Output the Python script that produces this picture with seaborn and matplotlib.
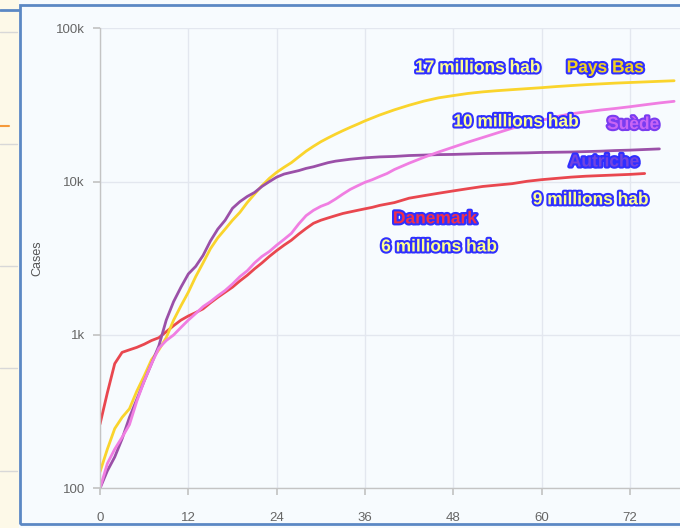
import pandas as pd
import matplotlib.pyplot as plt
import matplotlib.patheffects as pe
from matplotlib.patches import Rectangle
from matplotlib.lines import Line2D
import seaborn as sns

# cumulative cases by day since the 100th case
dk_days = [0, 1, 2, 3, 4, 5, 6, 7, 8, 9, 10, 11, 12, 13, 14, 15, 16, 17, 18, 19, 20, 21, 22, 23, 24, 25, 26, 27, 28, 29,
           30, 31, 32, 33, 34, 35, 36, 37, 38, 40, 42, 44, 46, 48, 50, 52, 54, 56, 58, 60, 62, 64, 66, 68, 70, 72, 74]
dk_cases = [262, 420, 650, 770, 800, 830, 870, 920, 960, 1050, 1150, 1250, 1330, 1400, 1480, 1620, 1760, 1900, 2050,
            2250, 2450, 2700, 2950, 3250, 3550, 3850, 4150, 4550, 4950, 5350, 5600, 5800, 6000, 6200, 6350, 6500, 6650,
            6800, 7000, 7300, 7800, 8100, 8400, 8700, 9000, 9300, 9500, 9700, 10050, 10300, 10500, 10700, 10850, 10950,
            11050, 11150, 11300]

nl_days = [0, 1, 2, 3, 4, 5, 6, 7, 8, 9, 10, 11, 12, 13, 14, 15, 16, 17, 18, 19, 20, 21, 22, 23, 24, 25, 26, 27, 28, 29,
           30, 31, 32, 33, 34, 35, 36, 38, 40, 42, 44, 46, 48, 50, 52, 54, 56, 58, 60, 62, 64, 66, 68, 70, 72, 74, 76, 78]
nl_cases = [128, 180, 245, 290, 330, 430, 540, 690, 800, 960, 1250, 1550, 1900, 2400, 2950, 3650, 4300, 4900, 5600,
            6300, 7300, 8300, 9400, 10500, 11500, 12400, 13300, 14500, 15800, 17000, 18200, 19300, 20400, 21500, 22600,
            23700, 24900, 27200, 29400, 31500, 33500, 35200, 36400, 37600, 38500, 39200, 39800, 40400, 41000, 41700,
            42300, 42900, 43400, 43900, 44300, 44700, 45100, 45500]

at_days = [0, 1, 2, 3, 4, 5, 6, 7, 8, 9, 10, 11, 12, 13, 14, 15, 16, 17, 18, 19, 20, 21, 22, 23, 24, 25, 26, 27, 28, 29,
           30, 31, 32, 33, 34, 36, 38, 40, 42, 44, 46, 48, 50, 52, 54, 56, 58, 60, 62, 64, 66, 68, 70, 72, 74, 76]
at_cases = [100, 130, 160, 210, 290, 380, 500, 650, 850, 1250, 1650, 2050, 2500, 2800, 3300, 4100, 4900, 5600, 6700,
            7400, 8000, 8500, 9300, 10000, 10700, 11200, 11500, 11800, 12200, 12500, 12900, 13300, 13600, 13800, 14000,
            14300, 14500, 14600, 14800, 14900, 15000, 15050, 15150, 15250, 15300, 15350, 15400, 15500, 15550, 15600,
            15700, 15800, 15950, 16050, 16200, 16350]

se_days = [0, 1, 2, 3, 4, 5, 6, 7, 8, 9, 10, 11, 12, 13, 14, 15, 16, 17, 18, 19, 20, 21, 22, 23, 24, 25, 26, 27, 28, 29,
           30, 31, 32, 33, 34, 35, 36, 37, 38, 39, 40, 42, 44, 46, 48, 50, 52, 54, 56, 58, 60, 62, 64, 66, 68, 70, 72,
           74, 76, 78]
se_cases = [100, 145, 180, 215, 260, 370, 500, 650, 820, 920, 1000, 1120, 1250, 1380, 1530, 1650, 1800, 1950, 2150,
            2400, 2620, 2950, 3250, 3500, 3850, 4200, 4600, 5300, 6000, 6500, 6900, 7200, 7700, 8300, 8900, 9400, 9900,
            10300, 10800, 11300, 12000, 13200, 14400, 15600, 16800, 18100, 19400, 20800, 22300, 23800, 25100, 26500,
            27700, 28500, 29300, 30000, 30800, 31700, 32600, 33400]

countries = ["Danemark", "Pays Bas", "Autriche", "Suède"]
colors = {"Danemark": "#e9474f", "Pays Bas": "#fad42c", "Autriche": "#9b50a8", "Suède": "#f07ee2"}

df = pd.concat([
    pd.DataFrame({"day": dk_days, "cases": dk_cases, "country": "Danemark"}),
    pd.DataFrame({"day": nl_days, "cases": nl_cases, "country": "Pays Bas"}),
    pd.DataFrame({"day": at_days, "cases": at_cases, "country": "Autriche"}),
    pd.DataFrame({"day": se_days, "cases": se_cases, "country": "Suède"}),
])

sns.set_theme(style="whitegrid")
plt.rcParams["font.family"] = ["Liberation Sans", "DejaVu Sans"]

fig = plt.figure(figsize=(6.8, 5.28), dpi=100, facecolor="#f7fbfe")

# neighbouring panel on the left and the blue frame of this panel
fig.patches.append(Rectangle((0, 0), 19 / 680, 1, transform=fig.transFigure,
                             facecolor="#fdf9e8", edgecolor="none", zorder=0))
for yy in [32, 144, 266, 368, 471]:
    fig.lines.append(Line2D([0, 17 / 680], [1 - yy / 528] * 2, transform=fig.transFigure,
                            color="#d8d8d8", lw=1))
fig.lines.append(Line2D([0, 9 / 680], [1 - 126 / 528] * 2, transform=fig.transFigure,
                        color="#f59a3a", lw=1.5))
fig.lines.append(Line2D([0, 19 / 680], [1 - 10 / 528] * 2, transform=fig.transFigure,
                        color="#5b88c4", lw=2))
fig.patches.append(Rectangle((20 / 680, 4 / 528), 700 / 680, 519 / 528, transform=fig.transFigure,
                             facecolor="none", edgecolor="#5b88c4", lw=2, zorder=5))

ax = fig.add_axes([100 / 680, 39.7 / 528, 580 / 680, 460 / 528])
ax.set_facecolor("#f7fbfe")

sns.lineplot(data=df, x="day", y="cases", hue="country", hue_order=countries,
             palette=colors, linewidth=2, legend=False, ax=ax)

ax.set_yscale("log")
ax.set_ylim(100, 100000)
ax.set_xlim(0, 78.8)
ax.set_xticks([0, 12, 24, 36, 48, 60, 72])
ax.set_yticks([100, 1000, 10000, 100000])
ax.set_yticklabels(["100", "1k", "10k", "100k"])
ax.minorticks_off()
ax.grid(True, color="#e3e7ef", lw=1)
for s in ["top", "right"]:
    ax.spines[s].set_visible(False)
for s in ["left", "bottom"]:
    ax.spines[s].set_color("#c4c4c4")
    ax.spines[s].set_linewidth(1)
ax.tick_params(axis="both", length=5, color="#c4c4c4", labelcolor="#666666", labelsize=9.5,
               bottom=True, left=True)
ax.tick_params(axis="x", pad=12)
ax.tick_params(axis="y", pad=6)
ax.set_xlabel("")
ax.set_ylabel("Cases", color="#555555", fontsize=9, labelpad=9)

blue = "#2f2fff"
labels = [
    ("17 millions hab", 42.8, 55200, "#ffff90", blue),
    ("Pays Bas", 63.4, 55200, "#f5d21e", blue),
    ("10 millions hab", 48.0, 24500, "#ffff90", blue),
    ("Suède", 68.9, 23600, "#c865f5", "#7a3cf0"),
    ("Autriche", 63.7, 13430, "#7244e0", blue),
    ("9 millions hab", 58.8, 7610, "#ffff90", blue),
    ("Danemark", 39.8, 5720, "#f0304a", blue),
    ("6 millions hab", 38.2, 3750, "#ffff90", blue),
]
for txt, xd, yd, fill, edge in labels:
    ax.text(xd, yd, txt, color=fill, fontsize=12.5, fontweight="bold", ha="left", va="center",
            path_effects=[pe.withStroke(linewidth=3, foreground=edge)], zorder=6)

plt.savefig("out.png", dpi=100, facecolor=fig.get_facecolor())
